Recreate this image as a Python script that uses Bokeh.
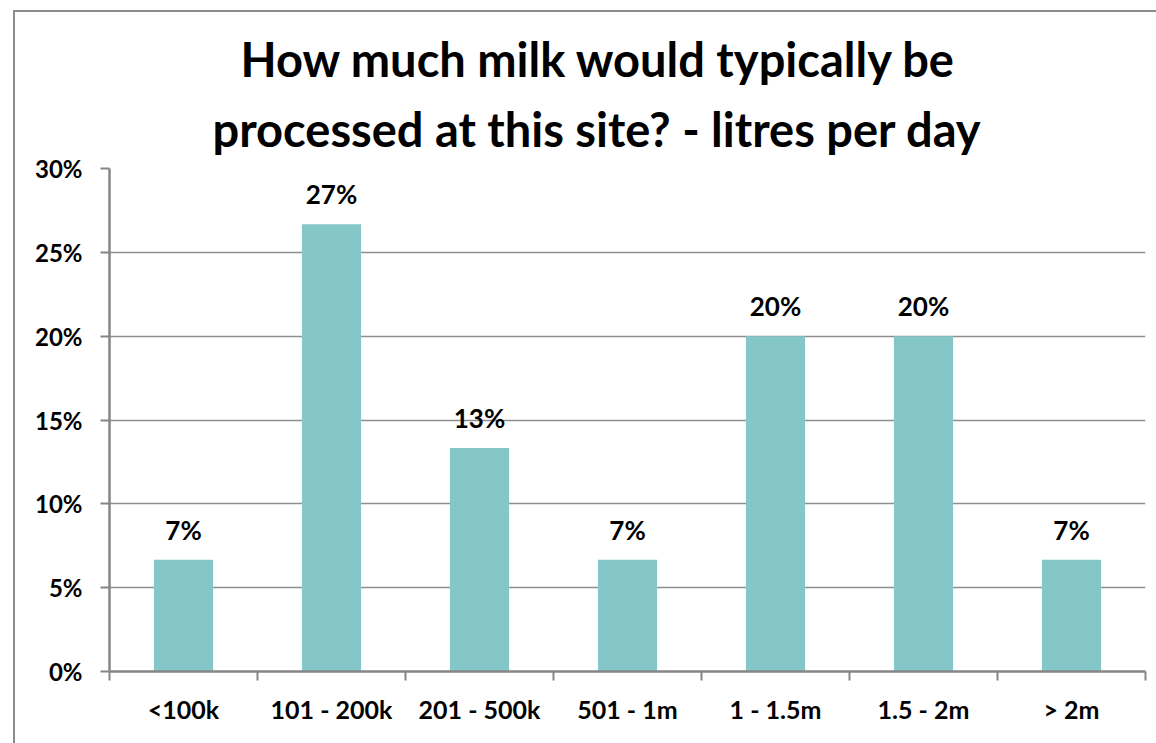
from bokeh.plotting import figure
from bokeh.models import (FixedTicker, NumeralTickFormatter, LabelSet, Title,
                          ColumnDataSource, Range1d, InlineStyleSheet)
from bokeh.core.properties import value
from bokeh.embed import file_html
from bokeh.resources import INLINE

title_lines = ["How much milk would typically be",
               "processed at this site? - litres per day"]
categories = ["<100k", "101 - 200k", "201 - 500k", "501 - 1m",
              "1 - 1.5m", "1.5 - 2m", "> 2m"]
values = [0.0667, 0.2667, 0.1333, 0.0667, 0.20, 0.20, 0.0667]
value_labels = ["7%", "27%", "13%", "7%", "20%", "20%", "7%"]
y_ticks = [0, 0.05, 0.10, 0.15, 0.20, 0.25, 0.30]

FONT = "Lato"
BAR = "#85C7C8"
AXIS = "#868686"
GRID = "#8E8E8E"

n = len(categories)
xs = [i + 0.5 for i in range(n)]
src = ColumnDataSource(dict(x=xs, top=values, lab=value_labels))

p = figure(width=1156, height=743, output_backend="svg", toolbar_location=None,
           title=None,
           x_range=Range1d(0, n), y_range=Range1d(0, 0.30),
           min_border_left=109, min_border_right=11,
           min_border_top=168, min_border_bottom=72,
           frame_width=1036, frame_height=503)
p.outline_line_color = None
p.background_fill_color = "white"
p.border_fill_color = "white"

p.vbar(x="x", top="top", width=0.4, source=src, color=BAR, line_color=None)

# axes
p.xaxis.ticker = FixedTicker(ticks=xs, minor_ticks=list(range(n + 1)))
p.xaxis.major_label_overrides = {x: c for x, c in zip(xs, categories)}
p.xaxis.major_tick_out = 0
p.xaxis.major_tick_in = 0
p.xaxis.minor_tick_out = 9
p.xaxis.minor_tick_in = 0
p.xaxis.minor_tick_line_color = AXIS
p.xaxis.minor_tick_line_width = 2
p.xaxis.axis_line_color = AXIS
p.xaxis.axis_line_width = 2.5
p.xaxis.major_label_standoff = 13
p.xaxis.major_label_text_font = FONT
p.xaxis.major_label_text_font_style = "bold"
p.xaxis.major_label_text_font_size = "25px"
p.xaxis.major_label_text_color = "black"

p.yaxis.ticker = FixedTicker(ticks=y_ticks, minor_ticks=[])
p.yaxis.formatter = NumeralTickFormatter(format="0%")
p.yaxis.major_tick_out = 9
p.yaxis.major_tick_in = 0
p.yaxis.major_tick_line_color = AXIS
p.yaxis.major_tick_line_width = 2
p.yaxis.axis_line_color = AXIS
p.yaxis.axis_line_width = 2.5
p.yaxis.major_label_standoff = 18
p.yaxis.major_label_text_font = FONT
p.yaxis.major_label_text_font_style = "bold"
p.yaxis.major_label_text_font_size = "24px"
p.yaxis.major_label_text_color = "black"

p.xgrid.grid_line_color = None
p.ygrid.grid_line_color = GRID
p.ygrid.grid_line_width = 1.5

# data labels
p.add_layout(LabelSet(x="x", y="top", text="lab", source=src,
                      text_align="center", text_baseline="middle", y_offset=30,
                      text_font=value(FONT), text_font_style="bold",
                      text_font_size="26px", text_color="black"))

# title: two stacked lines (last added sits on top), left aligned with offsets
for line, standoff, off in [(title_lines[1], 24, 103), (title_lines[0], 0, 131)]:
    p.add_layout(Title(text=line, align="left", offset=off,
                       text_font=FONT, text_font_style="bold",
                       text_font_size="47px", text_color="black",
                       standoff=standoff), "above")

# chart-area border (left and top edges; right/bottom lie outside the window)
p.stylesheets = [InlineStyleSheet(css=(
    ":host { position: relative; }"
    ":host::after { content: ''; position: absolute; left: 13px; top: 10px;"
    " right: 0; bottom: 0; border-left: 2px solid #8C8C8C;"
    " border-top: 2px solid #8C8C8C; pointer-events: none; z-index: 5; }"
))]

open("out.html", "w").write(file_html(p, INLINE))
